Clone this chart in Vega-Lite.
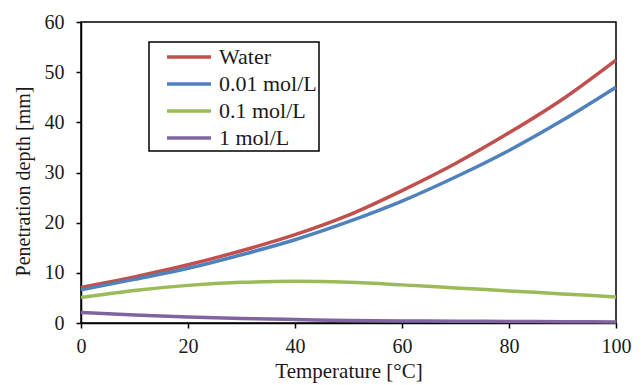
{
  "$schema": "https://vega.github.io/schema/vega-lite/v6.json",
  "width": 535,
  "height": 301,
  "autosize": {"type": "none"},
  "padding": {"left": 81, "top": 22, "right": 28, "bottom": 62},
  "background": "white",
  "config": {
    "view": {"stroke": "black", "strokeWidth": 1.5},
    "font": "Liberation Serif",
    "legend": {"strokeWidth": 1.5},
    "axis": {
      "domainColor": "black", "domainWidth": 1.5, "tickColor": "black", "tickWidth": 1.5, "tickSize": 5,
      "labelFont": "Liberation Serif", "labelFontSize": 20, "labelColor": "#1a1a1a", "labelFlush": false,
      "titleFont": "Liberation Serif", "titleFontSize": 21, "titleFontWeight": "normal", "titleColor": "#1a1a1a",
      "grid": false
    }
  },
  "data": {
    "values": [
      {"t": 0, "s": "Water", "d": 7.1}, {"t": 10, "s": "Water", "d": 9.2}, {"t": 20, "s": "Water", "d": 11.6}, {"t": 30, "s": "Water", "d": 14.4}, {"t": 40, "s": "Water", "d": 17.6}, {"t": 50, "s": "Water", "d": 21.5}, {"t": 60, "s": "Water", "d": 26.4}, {"t": 70, "s": "Water", "d": 31.8}, {"t": 80, "s": "Water", "d": 37.9}, {"t": 90, "s": "Water", "d": 44.6}, {"t": 100, "s": "Water", "d": 52.4},
      {"t": 0, "s": "0.01 mol/L", "d": 6.6}, {"t": 10, "s": "0.01 mol/L", "d": 8.7}, {"t": 20, "s": "0.01 mol/L", "d": 10.9}, {"t": 30, "s": "0.01 mol/L", "d": 13.6}, {"t": 40, "s": "0.01 mol/L", "d": 16.6}, {"t": 50, "s": "0.01 mol/L", "d": 20.2}, {"t": 60, "s": "0.01 mol/L", "d": 24.3}, {"t": 70, "s": "0.01 mol/L", "d": 29.1}, {"t": 80, "s": "0.01 mol/L", "d": 34.4}, {"t": 90, "s": "0.01 mol/L", "d": 40.4}, {"t": 100, "s": "0.01 mol/L", "d": 47.0},
      {"t": 0, "s": "0.1 mol/L", "d": 5.1}, {"t": 10, "s": "0.1 mol/L", "d": 6.5}, {"t": 20, "s": "0.1 mol/L", "d": 7.5}, {"t": 30, "s": "0.1 mol/L", "d": 8.1}, {"t": 40, "s": "0.1 mol/L", "d": 8.3}, {"t": 50, "s": "0.1 mol/L", "d": 8.1}, {"t": 60, "s": "0.1 mol/L", "d": 7.6}, {"t": 70, "s": "0.1 mol/L", "d": 7.0}, {"t": 80, "s": "0.1 mol/L", "d": 6.4}, {"t": 90, "s": "0.1 mol/L", "d": 5.8}, {"t": 100, "s": "0.1 mol/L", "d": 5.2},
      {"t": 0, "s": "1 mol/L", "d": 2.1}, {"t": 10, "s": "1 mol/L", "d": 1.6}, {"t": 20, "s": "1 mol/L", "d": 1.2}, {"t": 30, "s": "1 mol/L", "d": 0.9}, {"t": 40, "s": "1 mol/L", "d": 0.7}, {"t": 50, "s": "1 mol/L", "d": 0.5}, {"t": 60, "s": "1 mol/L", "d": 0.4}, {"t": 70, "s": "1 mol/L", "d": 0.35}, {"t": 80, "s": "1 mol/L", "d": 0.3}, {"t": 90, "s": "1 mol/L", "d": 0.25}, {"t": 100, "s": "1 mol/L", "d": 0.2}
    ]
  },
  "mark": {"type": "line", "interpolate": "monotone", "strokeWidth": 3.5, "clip": false},
  "encoding": {
    "x": {"field": "t", "type": "quantitative", "scale": {"domain": [0, 100], "nice": false},
      "axis": {"values": [0, 20, 40, 60, 80, 100], "title": "Temperature [°C]", "titlePadding": 4, "labelPadding": 8}},
    "y": {"field": "d", "type": "quantitative", "scale": {"domain": [0, 60], "nice": false},
      "axis": {"values": [0, 10, 20, 30, 40, 50, 60], "title": "Penetration depth [mm]", "titleFontSize": 20, "titleX": -48, "titleY": 159, "labelPadding": 12}},
    "color": {"field": "s", "type": "nominal",
      "scale": {"domain": ["Water", "0.01 mol/L", "0.1 mol/L", "1 mol/L"], "range": ["#C0504D", "#4F81BD", "#9BBB59", "#8064A2"]},
      "legend": {
        "title": null, "orient": "none", "legendX": 68, "legendY": 20,
        "symbolType": "M-2,0H2", "symbolSize": 484, "symbolStrokeWidth": 3.5, "symbolOffset": 25,
        "labelFont": "Liberation Serif", "labelFontSize": 22, "labelColor": "#1a1a1a", "labelOffset": 17,
        "rowPadding": 3, "padding": 2, "strokeColor": "black", "fillColor": "white",
        "offset": 0
      }
    }
  }
}
